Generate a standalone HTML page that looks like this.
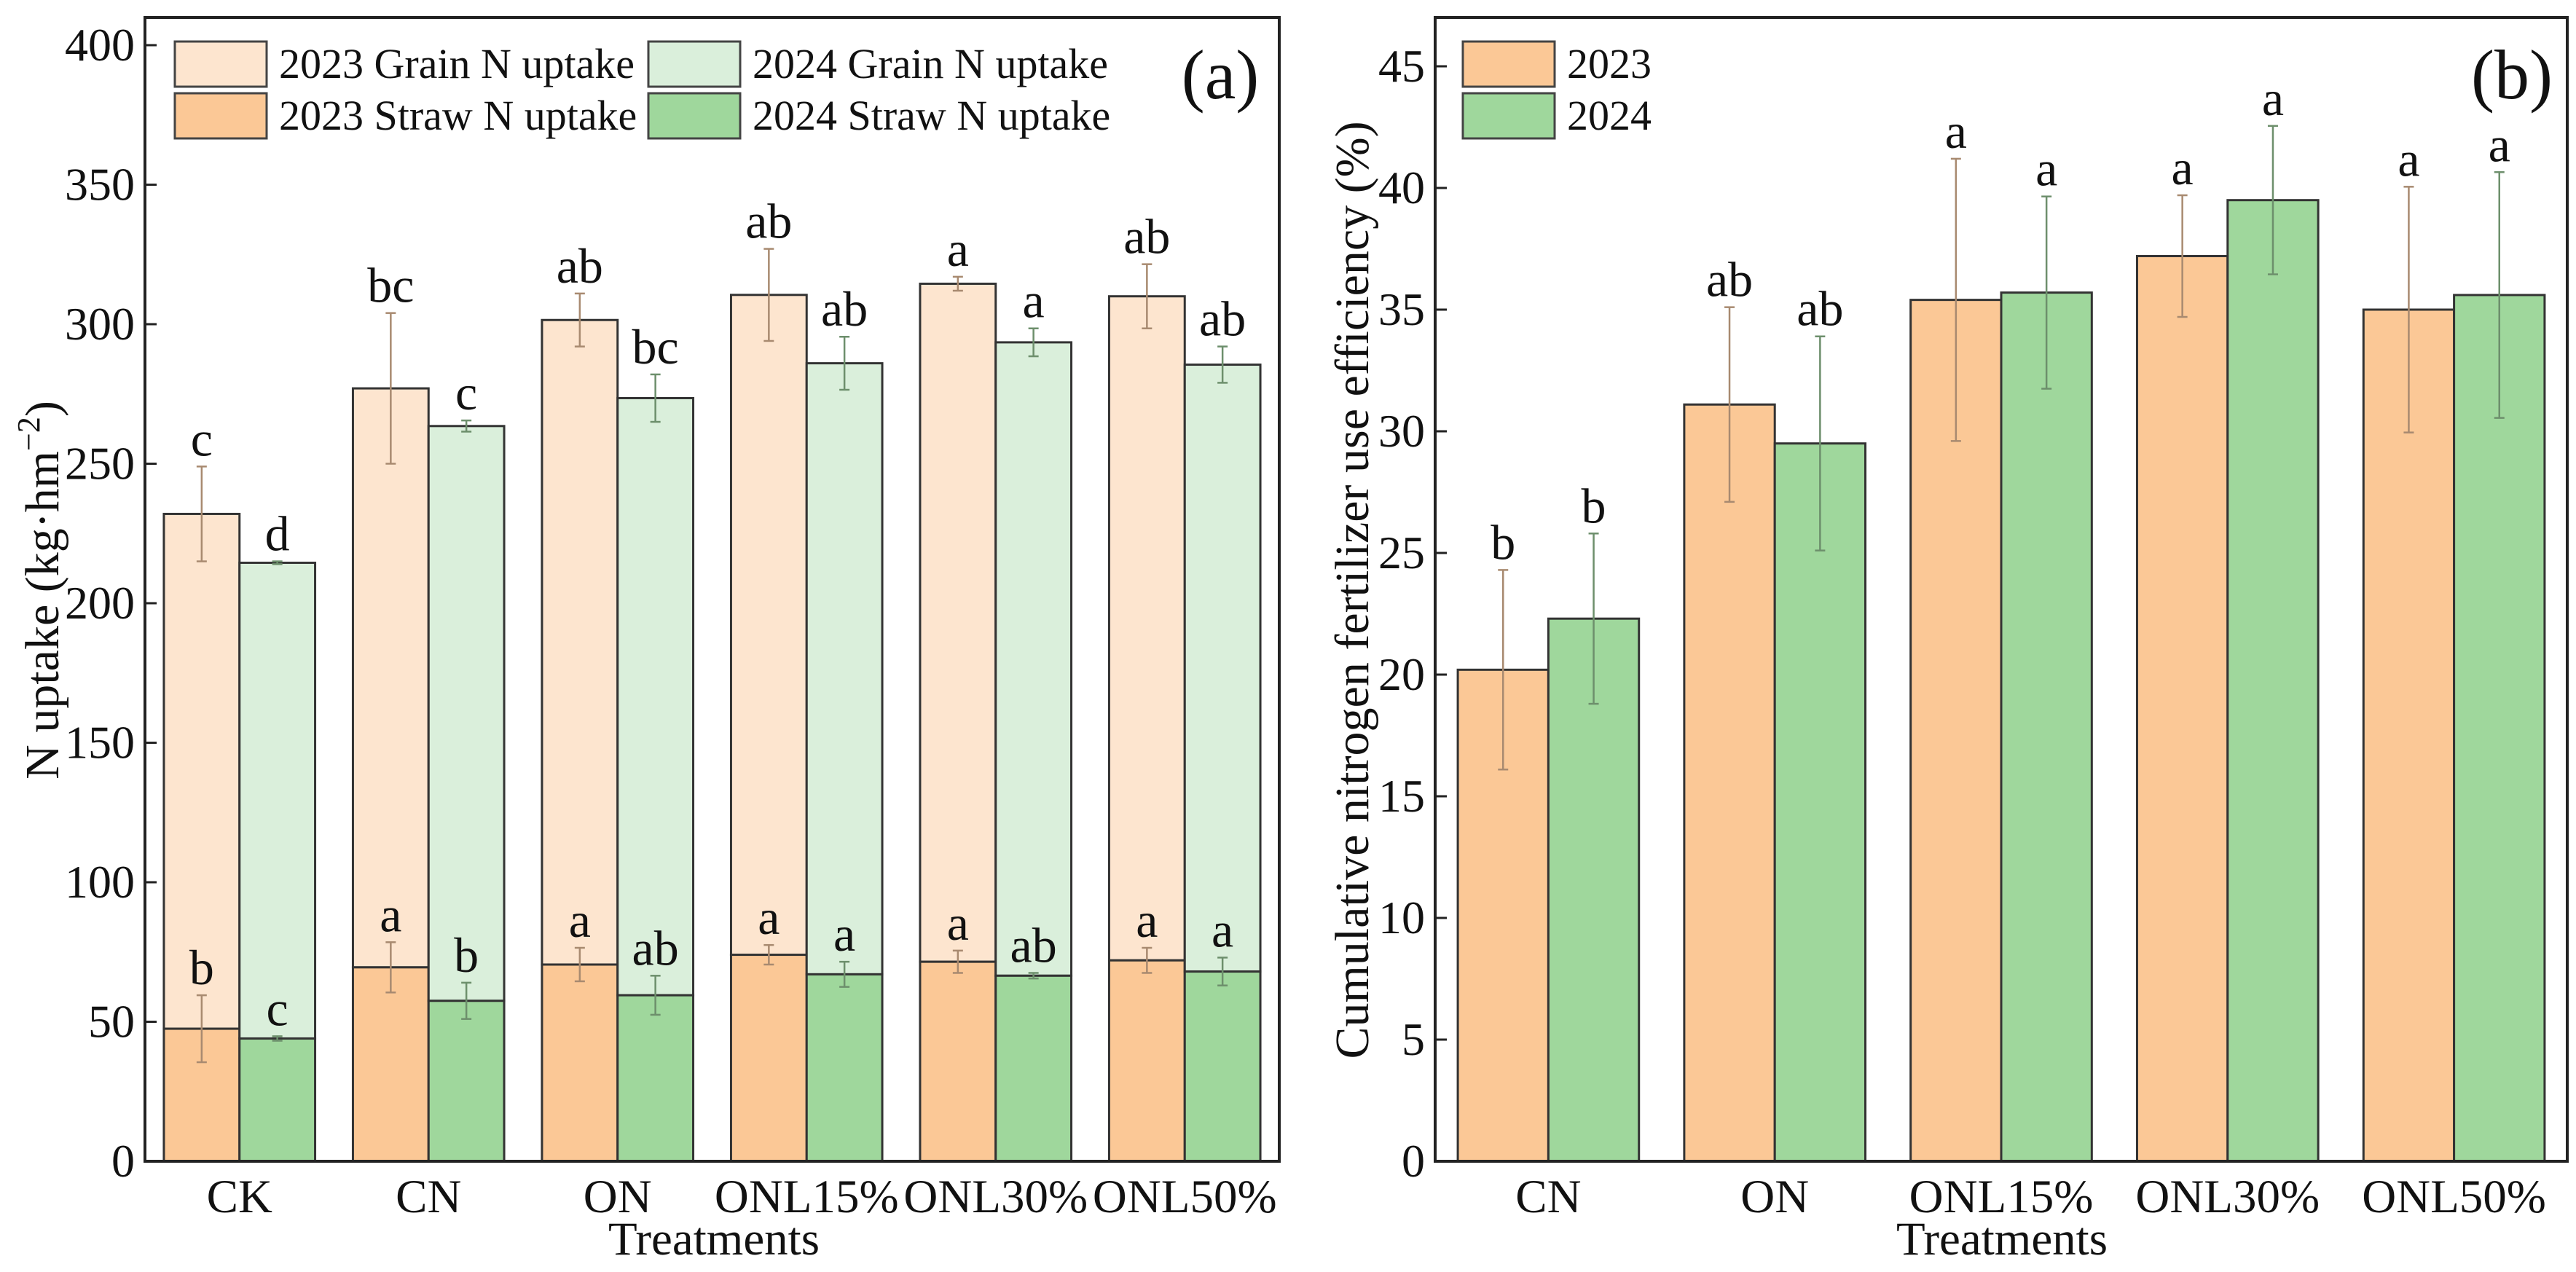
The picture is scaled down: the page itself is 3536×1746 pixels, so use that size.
<!DOCTYPE html>
<html><head><meta charset="utf-8"><style>
html,body{margin:0;padding:0;background:#fff}
svg{display:block}
text{font-family:"Liberation Serif",serif;fill:#111}
</style></head><body>
<svg id="chart" width="3536" height="1746" viewBox="0 0 3536 1746" xmlns="http://www.w3.org/2000/svg">
<g id="pa"></g>
<g id="pb"></g>
</svg>
<script>
// Panel A data
const catsA = ["CK","CN","ON","ONL15%","ONL30%","ONL50%"];
const grain23 = [232, 277, 301.5, 310.5, 314.5, 310];
const grain23Err = [17, 27, 9.5, 16.5, 2.5, 11.5];
const grain23Lab = ["c","bc","ab","ab","a","ab"];
const grain24 = [214.5, 263.5, 273.5, 286, 293.5, 285.5];
const grain24Err = [0.5, 2, 8.5, 9.5, 5, 6.5];
const grain24Lab = ["d","c","bc","ab","a","ab"];
const straw23 = [47.5, 69.5, 70.5, 74, 71.5, 72];
const straw23Err = [12, 9, 6, 3.5, 4, 4.5];
const straw23Lab = ["b","a","a","a","a","a"];
const straw24 = [44, 57.5, 59.5, 67, 66.5, 68];
const straw24Err = [0.8, 6.5, 7, 4.5, 1, 5];
const straw24Lab = ["c","b","ab","a","ab","a"];
const ticksA = [0,50,100,150,200,250,300,350,400];
// Panel B data
const catsB = ["CN","ON","ONL15%","ONL30%","ONL50%"];
const eff23 = [20.2, 31.1, 35.4, 37.2, 35.0];
const eff23Err = [4.1, 4.0, 5.8, 2.5, 5.05];
const eff23Lab = ["b","ab","a","a","a"];
const eff24 = [22.3, 29.5, 35.7, 39.5, 35.6];
const eff24Err = [3.5, 4.4, 3.95, 3.05, 5.05];
const eff24Lab = ["b","ab","a","a","a"];
const ticksB = [0,5,10,15,20,25,30,35,40,45];

const NS="http://www.w3.org/2000/svg";
function mk(parent, tag, attrs, txt){
  const e=document.createElementNS(NS,tag);
  for(const k in attrs) e.setAttribute(k,attrs[k]);
  if(txt!==undefined) e.textContent=txt;
  parent.appendChild(e); return e;
}
const C23G="#fde5cf", C23S="#fbc896", C24G="#daefdb", C24S="#9fd79c";
const E23="#a88a70", E24="#6d8f6c";

function frame(g, L, R, T, B){
  const r=mk(g,'rect',{x:L,y:T,width:R-L,height:B-T,fill:'none',stroke:'#222','stroke-width':4});
  
  
}
function yAxis(g, ticks, ys, L){
  ticks.forEach(t=>{
    const y=ys(t);
    const l=mk(g,'line',{x1:L,x2:L+16,y1:y,y2:y,stroke:'#222','stroke-width':3});
    
    
    const tx=mk(g,'text',{x:L-14,y:y+21,'text-anchor':'end','font-size':64},String(t));
    
    
  });
}
function errBar(g, x, v, e, ys, col){
  const gg=mk(g,'g',{stroke:col,'stroke-width':2.5});
  
  
  mk(gg,'line',{x1:x,x2:x,y1:ys(v-e),y2:ys(v+e)});
  mk(gg,'line',{x1:x-7,x2:x+7,y1:ys(v-e),y2:ys(v-e)});
  mk(gg,'line',{x1:x-7,x2:x+7,y1:ys(v+e),y2:ys(v+e)});
}
function letter(g, x, top, s, ys){
  const t=mk(g,'text',{x:x,y:ys(top)-15,'text-anchor':'middle','font-size':68},s);
  
  
}
function bar(g,x,w,v0,v1,ys,fill,name){
  const r=mk(g,'rect',{x:x,y:ys(v1),width:w,height:ys(v0)-ys(v1),fill:fill,stroke:'#333','stroke-width':3});
  
  
}
function legendItem(g,x,y,fill,label){
  const gg=mk(g,'g',{});
  
  
  mk(gg,'rect',{x:x,y:y,width:126,height:62,fill:fill,stroke:'#444','stroke-width':3});
  mk(gg,'text',{x:x+143,y:y+50,'font-size':58},label);
}

// ---------- Panel A ----------
(function(){
  const g=document.getElementById('pa');
  const L=199,R=1756,T=24,B=1594;
  const ys=v=>B-(v/400)*(B-62);
  const per=(R-L)/catsA.length, bw=per*0.4;
  catsA.forEach((c,i)=>{
    const cx=L+per*(i+0.5);
    const x23=cx-bw, x24=cx;
    bar(g,x23,bw,straw23[i],grain23[i],ys,C23G,'bar-grain-2023');
    bar(g,x23,bw,0,straw23[i],ys,C23S,'bar-straw-2023');
    bar(g,x24,bw,straw24[i],grain24[i],ys,C24G,'bar-grain-2024');
    bar(g,x24,bw,0,straw24[i],ys,C24S,'bar-straw-2024');
    errBar(g,x23+bw/2,grain23[i],grain23Err[i],ys,E23);
    errBar(g,x24+bw/2,grain24[i],grain24Err[i],ys,E24);
    errBar(g,x23+bw/2,straw23[i],straw23Err[i],ys,E23);
    errBar(g,x24+bw/2,straw24[i],straw24Err[i],ys,E24);
    letter(g,x23+bw/2,grain23[i]+grain23Err[i],grain23Lab[i],ys);
    letter(g,x24+bw/2,grain24[i]+grain24Err[i],grain24Lab[i],ys);
    letter(g,x23+bw/2,straw23[i]+straw23Err[i],straw23Lab[i],ys);
    letter(g,x24+bw/2,straw24[i]+straw24Err[i],straw24Lab[i],ys);
    const t=mk(g,'text',{x:cx,y:1664,'text-anchor':'middle','font-size':65},c);
    
    
  });
  frame(g,L,R,T,B);
  yAxis(g,ticksA,ys,L);
  const xt=mk(g,'text',{x:980,y:1722,'text-anchor':'middle','font-size':65},'Treatments');
  
  
  const yt=mk(g,'text',{x:0,y:0,'text-anchor':'middle','font-size':66,transform:'translate(80,810) rotate(-90)'});
  
  
  yt.innerHTML='N uptake (kg·hm<tspan dy="-26" font-size="44">−2</tspan><tspan dy="26">)</tspan>';
  const lg=mk(g,'g',{});
  
  
  legendItem(lg,240,57,C23G,'2023 Grain N uptake');
  legendItem(lg,890,57,C24G,'2024 Grain N uptake');
  legendItem(lg,240,128,C23S,'2023 Straw N uptake');
  legendItem(lg,890,128,C24S,'2024 Straw N uptake');
  const pl=mk(g,'text',{x:1675,y:135,'text-anchor':'middle','font-size':96},'(a)');
  
  
})();

// ---------- Panel B ----------
(function(){
  const g=document.getElementById('pb');
  const L=1970,R=3524,T=24,B=1594;
  const ys=v=>B-(v/45)*(B-91);
  const per=(R-L)/catsB.length, bw=per*0.4;
  catsB.forEach((c,i)=>{
    const cx=L+per*(i+0.5);
    const x23=cx-bw, x24=cx;
    bar(g,x23,bw,0,eff23[i],ys,C23S,'bar-2023');
    bar(g,x24,bw,0,eff24[i],ys,C24S,'bar-2024');
    errBar(g,x23+bw/2,eff23[i],eff23Err[i],ys,E23);
    errBar(g,x24+bw/2,eff24[i],eff24Err[i],ys,E24);
    letter(g,x23+bw/2,eff23[i]+eff23Err[i],eff23Lab[i],ys);
    letter(g,x24+bw/2,eff24[i]+eff24Err[i],eff24Lab[i],ys);
    const t=mk(g,'text',{x:cx,y:1664,'text-anchor':'middle','font-size':65},c);
    
    
  });
  frame(g,L,R,T,B);
  yAxis(g,ticksB,ys,L);
  const xt=mk(g,'text',{x:2748,y:1722,'text-anchor':'middle','font-size':65},'Treatments');
  
  
  const yt=mk(g,'text',{x:0,y:0,'text-anchor':'middle','font-size':66,transform:'translate(1878,810) rotate(-90)'},'Cumulative nitrogen fertilizer use efficiency (%)');
  
  
  const lg=mk(g,'g',{});
  
  
  legendItem(lg,2008,57,C23S,'2023');
  legendItem(lg,2008,128,C24S,'2024');
  const pl=mk(g,'text',{x:3448,y:135,'text-anchor':'middle','font-size':96},'(b)');
  
  
})();
</script>
</body></html>
